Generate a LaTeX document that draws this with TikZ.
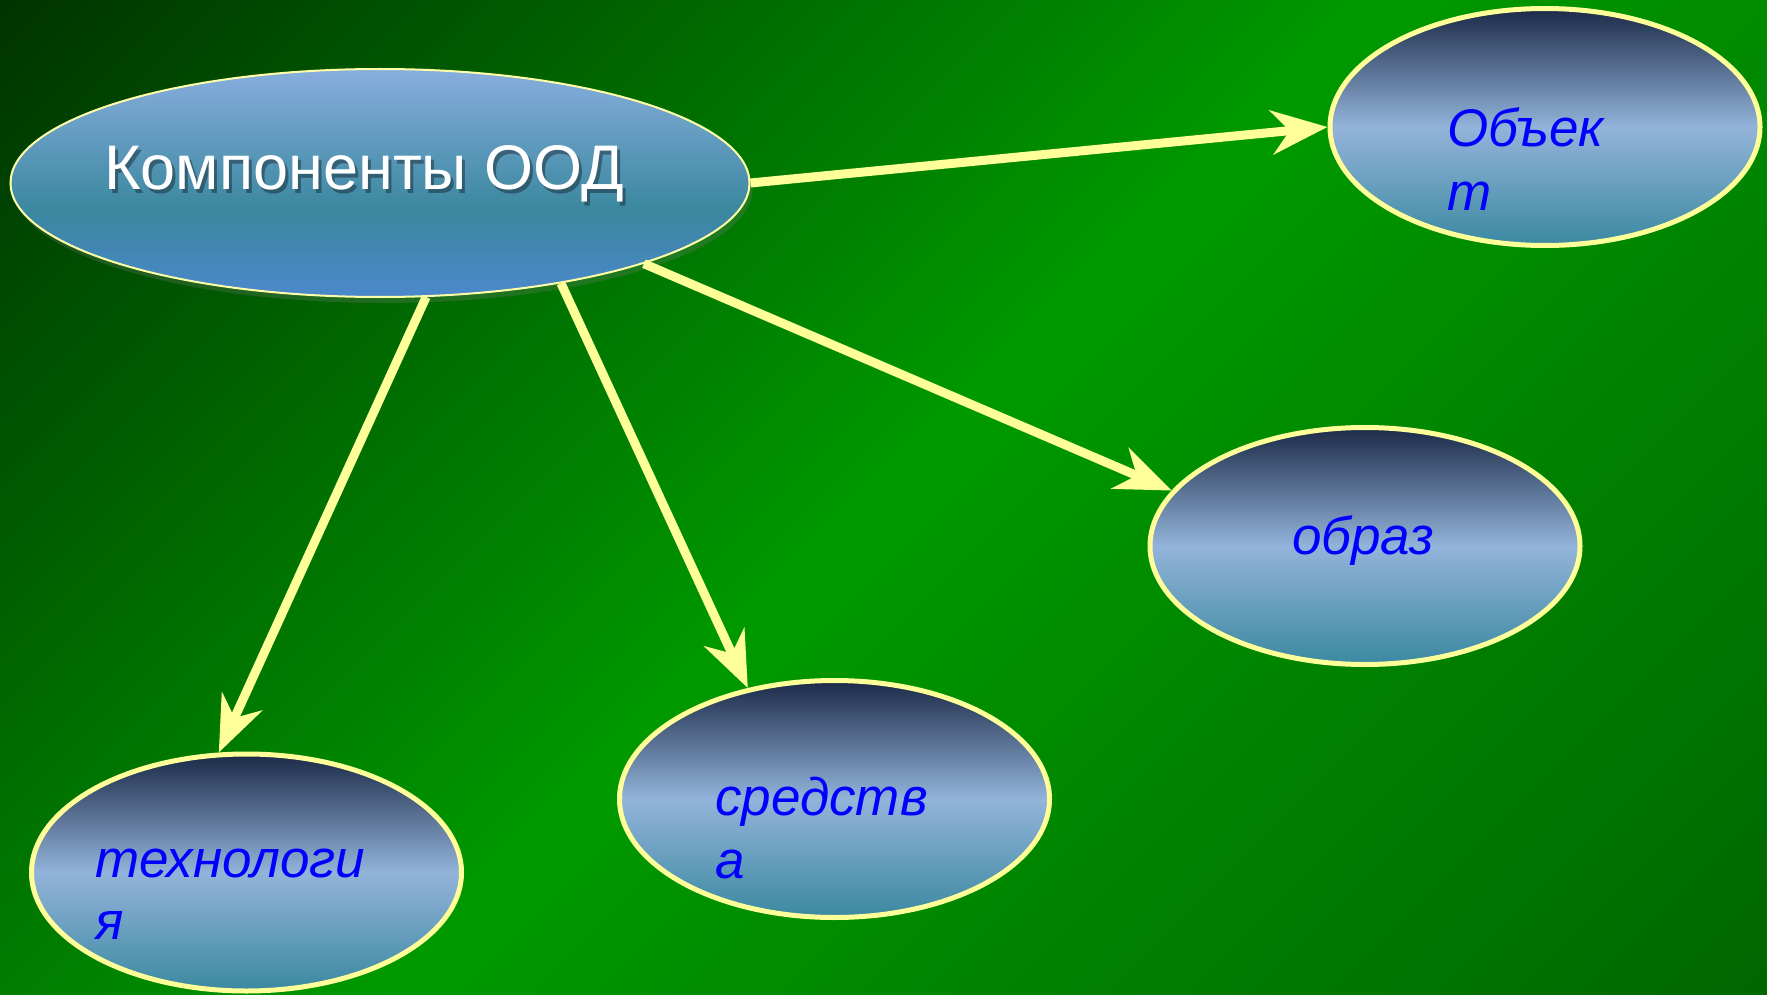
\documentclass[tikz,border=0pt]{standalone}
\usepackage{fontspec}
\setmainfont{Liberation Sans}
\usetikzlibrary{arrows.meta,shapes.geometric,shadows}
\definecolor{bgTL}{HTML}{003300}
\definecolor{bgC}{HTML}{009900}
\definecolor{bgBR}{HTML}{006600}
\definecolor{arr}{HTML}{FFFF99}
\definecolor{ntop}{HTML}{1B2A47}
\definecolor{nmid}{HTML}{93B3DA}
\definecolor{nbot}{HTML}{3B89A1}
\definecolor{mtop}{HTML}{88AEDE}
\definecolor{mmid}{HTML}{3A879F}
\definecolor{mbot}{HTML}{4C88CC}
\definecolor{lbl}{HTML}{0000FF}
\pgfdeclareverticalshading{bgsh}{100bp}{color(0bp)=(bgBR); color(22bp)=(bgBR); color(50bp)=(bgC); color(78bp)=(bgTL); color(100bp)=(bgTL)}
\pgfdeclareverticalshading{mainsh}{100bp}{color(0bp)=(mbot); color(25bp)=(mbot); color(44bp)=(mmid); color(75bp)=(mtop); color(100bp)=(mtop)}
\tikzset{
  leaf/.style={ellipse, draw=arr, line width=5pt, top color=ntop, bottom color=nbot, middle color=nmid, minimum width=430pt, minimum height=237pt, inner sep=0pt},
  hub/.style={ellipse, draw=arr!85!white, line width=2pt, shade, shading=mainsh, minimum width=739pt, minimum height=228pt, inner sep=0pt, drop shadow={shadow xshift=3pt, shadow yshift=-6pt, opacity=0.25}},
  conn/.style={draw=arr, line width=9pt, -{Stealth[length=56pt,width=44pt,inset=18pt]},
    preaction={draw=black, opacity=0.22, transform canvas={shift={(2pt,-4pt)}}}},
  lbltext/.style={text=lbl, font=\fontsize{53}{63}\selectfont\itshape, inner sep=0pt, anchor=base west},
  hubtext/.style={font=\fontsize{63}{70}\selectfont, inner sep=0pt, anchor=base west},
}
\begin{document}
\begin{tikzpicture}[x=1pt, y=-1pt]
\useasboundingbox (0,0) rectangle (1767,995);
\begin{scope}
  \clip (0,0) rectangle (1767,995);
  \fill[bgC] (0,0) rectangle (1767,995);
  \shade[shading=bgsh, shading angle=45] (0,-386) rectangle (1767,1381);
\end{scope}
% nodes
\node[hub] (hub) at (380,183) {};
\node[leaf] (obj) at (1545,127) {};
\node[leaf] (obr) at (1365,546) {};
\node[leaf] (sr) at (834.5,799) {};
\node[leaf] (tech) at (246.5,872.5) {};
% texts
\node[hubtext, text=black, opacity=0.35] (hubS) at (107,194) {Компоненты ООД};
\node[hubtext, text=white] (hubT) at (104,190) {Компоненты ООД};
\node[lbltext] (objA) at (1447,147) {Объек};
\node[lbltext] (objB) at (1447,211) {т};
\node[lbltext, anchor=base] (obrT) at (1363,554) {образ};
\node[lbltext] (srA) at (715,815) {средств};
\node[lbltext] (srB) at (715,878) {а};
\node[lbltext] (techA) at (95,877) {технологи};
\node[lbltext] (techB) at (95,939) {я};
% connectors
\draw[conn] (hub.east) -- (obj.west);
\draw[conn] (hub.-17.5) -- (obr.164.6);
\draw[conn] (hub.-29.6) -- (sr.128.6);
\draw[conn] (hub.-68) -- (tech.103.7);
\end{tikzpicture}
\end{document}
